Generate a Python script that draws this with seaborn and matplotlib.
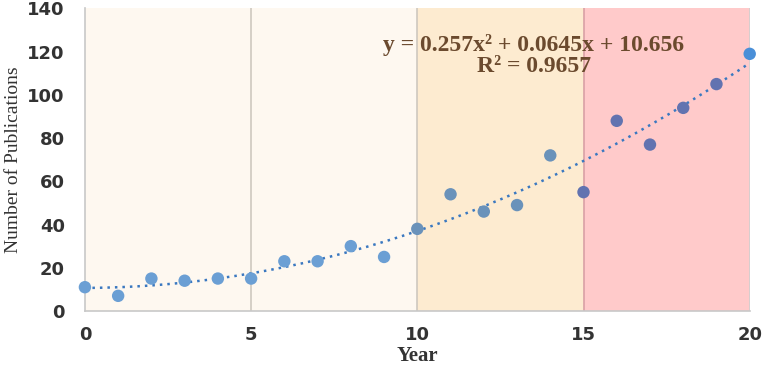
import numpy as np
import pandas as pd
import matplotlib
matplotlib.use('Agg')
import matplotlib.pyplot as plt
import seaborn as sns

# Publications per year
years = [0, 1, 2, 3, 4, 5, 6, 7, 8, 9, 10, 11, 12, 13, 14, 15, 16, 17, 18, 19, 20]
publications = [11, 7, 15, 14, 15, 15, 23, 23, 30, 25, 38, 54, 46, 49, 72, 55, 88, 77, 94, 105, 119]

# Polynomial trendline coefficients (from the chart label)
trend_coefs = [0.257, 0.0645, 10.656]
r_squared = 0.9657

# Shaded periods
band_edges = [0, 5, 10, 15, 20]
band_colors = ['#fef8f0', '#fef8f0', '#fdebd0', '#ffcaca']
divider_colors = ['#cfc8bf', '#cfc8bf', '#d9a0a5', '#d0d0d0']


def region(x):
    if x >= 20:
        return 'edge'
    if x >= 15:
        return 'late'
    if x >= 10:
        return 'mid'
    return 'early'


df = pd.DataFrame({'year': years, 'pubs': publications})
df['region'] = df['year'].apply(region)
palette = {'early': '#6b9fd4', 'mid': '#6a92ba', 'late': '#6273b0', 'edge': '#4a8fd8'}

sns.set_style('white')
fig = plt.figure(figsize=(7.65, 3.68), dpi=100)
ax = fig.add_axes([0.111, 0.155, 0.869, 0.822])

for i in range(len(band_colors)):
    ax.axvspan(band_edges[i], band_edges[i + 1], color=band_colors[i], lw=0, zorder=0)
    ax.axvline(band_edges[i + 1], color=divider_colors[i], lw=1.2, zorder=1)

# trendline
xs = np.linspace(0, 20, 200)
ax.plot(xs, np.polyval(trend_coefs, xs), ls=(0, (1, 2)), color='#3a78c0', lw=1.8, zorder=2)

sns.scatterplot(data=df, x='year', y='pubs', hue='region', palette=palette, s=80,
                edgecolor='none', legend=False, ax=ax, zorder=3, clip_on=False)

eq = (f'y = {trend_coefs[0]}x² + {trend_coefs[1]}x + {trend_coefs[2]}\n'
      f'R² = {r_squared}')
ax.text(13.5, 118, eq, ha='center', va='center', multialignment='center',
        fontsize=17, fontweight='bold', family='Liberation Serif',
        color='#6b4a2e', linespacing=1.0)

ax.set_xlim(0, 20)
ax.set_ylim(0, 140)
ax.set_xticks([0, 5, 10, 15, 20])
ax.set_yticks(range(0, 141, 20))
for lab in ax.get_xticklabels() + ax.get_yticklabels():
    lab.set_fontweight('bold')
    lab.set_fontsize(13)
    lab.set_color('#333333')
ax.tick_params(axis='x', pad=7)
ax.tick_params(axis='y', pad=11)

ax.set_xlabel('Year', family='Liberation Serif', fontweight='bold', fontsize=15,
              color='#333333', labelpad=2)
ax.set_ylabel('Number of Publications', family='Liberation Serif', fontsize=14,
              color='#333333', labelpad=4)

for side in ['top', 'right']:
    ax.spines[side].set_visible(False)
for side in ['left', 'bottom']:
    ax.spines[side].set_color('#c8c8c8')
    ax.spines[side].set_linewidth(1.2)

fig.savefig('out.png', dpi=100)
